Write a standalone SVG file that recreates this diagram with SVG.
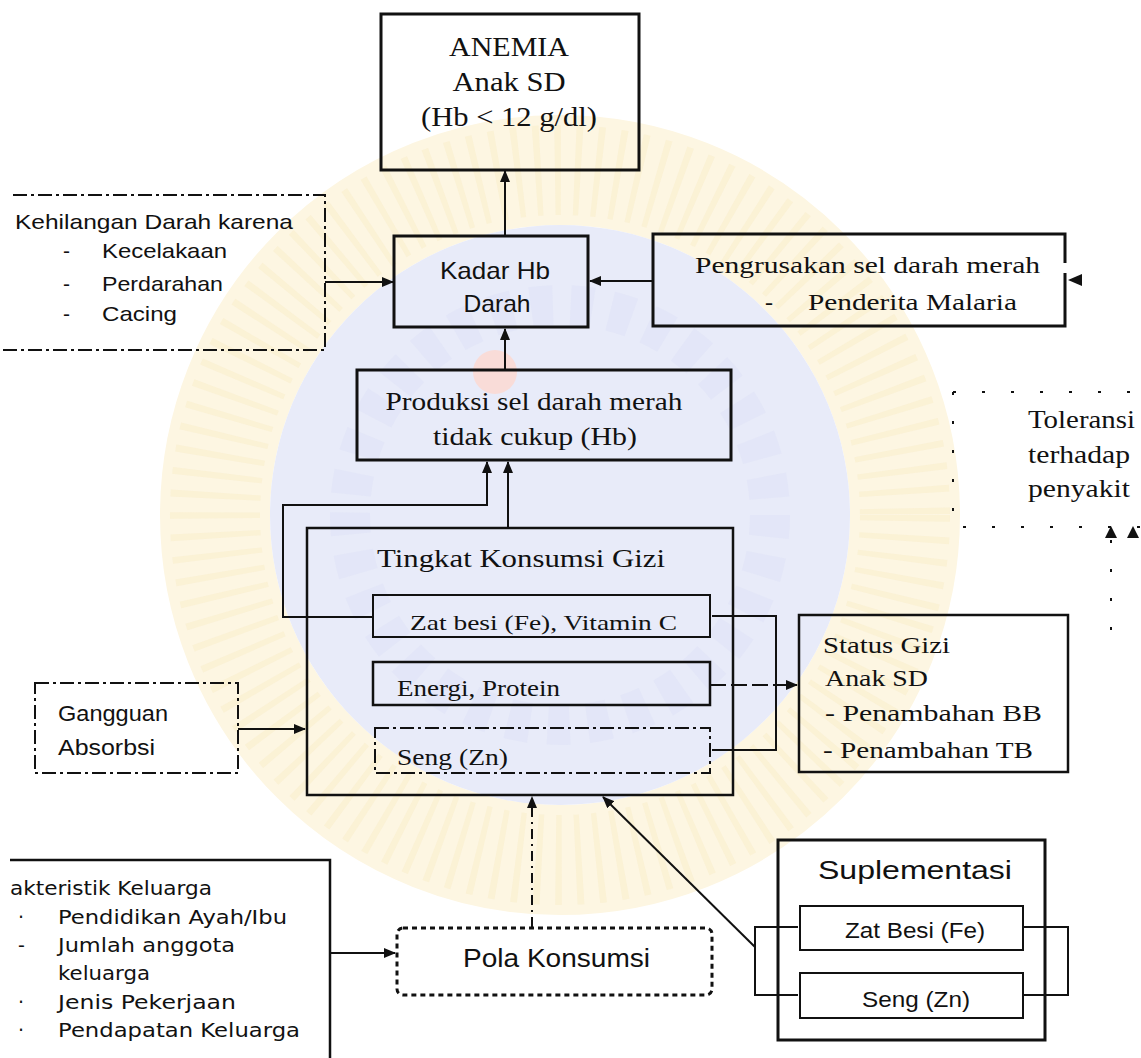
<svg xmlns="http://www.w3.org/2000/svg" width="1141" height="1058" viewBox="0 0 1141 1058">
  <style>
    .box { fill: none; stroke: #111; stroke-width: 3; }
    .thin { fill: none; stroke: #111; stroke-width: 2; }
    .dash { fill: none; stroke: #111; stroke-width: 2; stroke-dasharray: 14 4 3 4; }
    .dot { fill: none; stroke: #111; stroke-width: 3; stroke-dasharray: 5 4; }
    .sparse { fill: none; stroke: #111; stroke-width: 2; stroke-dasharray: 3 26; }
    .ln { fill: none; stroke: #111; stroke-width: 2; }
    .serif { font-family: "Liberation Serif", "Times New Roman", serif; fill: #111; }
    .sans { font-family: "Liberation Sans", Arial, sans-serif; fill: #111; }
    .round { font-family: "DejaVu Sans", "Liberation Sans", sans-serif; fill: #111; }
  </style>
  <defs>
    <marker id="ah" viewBox="0 0 12 10" refX="11" refY="5" markerWidth="12" markerHeight="10" markerUnits="userSpaceOnUse" orient="auto">
      <path d="M0,0 L12,5 L0,10 z" fill="#111"/>
    </marker>
  </defs>

  <rect width="1141" height="1058" fill="#fff"/>

  <!-- faint seal printed behind the chart -->
  <g id="watermark">
    <circle cx="560" cy="515" r="345" fill="none" stroke="#fdf6e2" stroke-width="110"/>
    <circle cx="560" cy="515" r="345" fill="none" stroke="#faeec8" stroke-width="90" stroke-dasharray="6 14" opacity="0.5"/>
    <circle cx="560" cy="515" r="290" fill="#e8ebf9"/>
    <circle cx="560" cy="515" r="210" fill="none" stroke="#dfe3f7" stroke-width="40" stroke-dasharray="22 18" opacity="0.6"/>
    <circle cx="495" cy="372" r="22" fill="#f9dcd8"/>
  </g>

  <g id="anemia">
    <rect class="box" x="381" y="14" width="258" height="156"/>
    <text class="serif" font-size="27" text-anchor="middle" x="509" y="56" textLength="120" lengthAdjust="spacingAndGlyphs">ANEMIA</text>
    <text class="serif" font-size="27" text-anchor="middle" x="509" y="91" textLength="113" lengthAdjust="spacingAndGlyphs">Anak SD</text>
    <text class="serif" font-size="27" text-anchor="middle" x="509" y="126" textLength="176" lengthAdjust="spacingAndGlyphs">(Hb &lt; 12 g/dl)</text>
  </g>

  <g id="kehilangan-darah">
    <path class="dash" d="M13,195 H325 V350 H2"/>
    <text class="sans" font-size="21" x="15" y="229" textLength="278" lengthAdjust="spacingAndGlyphs">Kehilangan Darah karena</text>
    <text class="sans" font-size="21" x="63" y="258">-</text>
    <text class="sans" font-size="21" x="102" y="258" textLength="125" lengthAdjust="spacingAndGlyphs">Kecelakaan</text>
    <text class="sans" font-size="21" x="63" y="291">-</text>
    <text class="sans" font-size="21" x="102" y="291" textLength="121" lengthAdjust="spacingAndGlyphs">Perdarahan</text>
    <text class="sans" font-size="21" x="63" y="321">-</text>
    <text class="sans" font-size="21" x="102" y="321" textLength="75" lengthAdjust="spacingAndGlyphs">Cacing</text>
  </g>

  <g id="kadar-hb">
    <rect class="box" x="394" y="236" width="194" height="91"/>
    <text class="sans" font-size="24" text-anchor="middle" x="495" y="279" textLength="110" lengthAdjust="spacingAndGlyphs">Kadar Hb</text>
    <text class="sans" font-size="24" text-anchor="middle" x="497" y="312" textLength="67" lengthAdjust="spacingAndGlyphs">Darah</text>
  </g>

  <g id="pengrusakan">
    <path class="box" d="M1065,263 V234 H653 V326 H1065 V273"/>
    <text class="serif" font-size="24" x="695" y="273" textLength="345" lengthAdjust="spacingAndGlyphs">Pengrusakan sel darah merah</text>
    <text class="serif" font-size="24" x="765" y="310">-</text>
    <text class="serif" font-size="24" x="808" y="310" textLength="209" lengthAdjust="spacingAndGlyphs">Penderita Malaria</text>
  </g>

  <g id="produksi">
    <rect class="box" x="357" y="370" width="374" height="90"/>
    <text class="serif" font-size="25" text-anchor="middle" x="534" y="410" textLength="297" lengthAdjust="spacingAndGlyphs">Produksi sel darah merah</text>
    <text class="serif" font-size="25" text-anchor="middle" x="535" y="445" textLength="204" lengthAdjust="spacingAndGlyphs">tidak cukup (Hb)</text>
  </g>

  <g id="toleransi">
    <path class="sparse" d="M953,392 H1150 M953,392 V527 H1150"/>
    <text class="serif" font-size="25" x="1028" y="428" textLength="107" lengthAdjust="spacingAndGlyphs">Toleransi</text>
    <text class="serif" font-size="25" x="1028" y="463" textLength="102" lengthAdjust="spacingAndGlyphs">terhadap</text>
    <text class="serif" font-size="25" x="1028" y="497" textLength="102" lengthAdjust="spacingAndGlyphs">penyakit</text>
  </g>

  <g id="tingkat-konsumsi">
    <rect class="box" style="stroke-width:2.5" x="307" y="528" width="426" height="267"/>
    <text class="serif" font-size="26" x="377" y="567" textLength="288" lengthAdjust="spacingAndGlyphs">Tingkat Konsumsi Gizi</text>
    <g id="zat-besi-vitc">
      <rect class="thin" x="373" y="595" width="337" height="42"/>
      <text class="serif" font-size="22" x="410" y="630" textLength="267" lengthAdjust="spacingAndGlyphs">Zat besi (Fe), Vitamin C</text>
    </g>
    <g id="energi-protein">
      <rect class="box" style="stroke-width:2.5" x="373" y="662" width="337" height="43"/>
      <text class="serif" font-size="23" x="397" y="696" textLength="163" lengthAdjust="spacingAndGlyphs">Energi, Protein</text>
    </g>
    <g id="seng-gizi">
      <rect class="dash" x="375" y="728" width="335" height="45"/>
      <text class="serif" font-size="23" x="397" y="765" textLength="111" lengthAdjust="spacingAndGlyphs">Seng (Zn)</text>
    </g>
  </g>

  <g id="status-gizi">
    <rect class="box" style="stroke-width:2.5" x="799" y="615" width="269" height="157"/>
    <text class="serif" font-size="23" x="823" y="653" textLength="127" lengthAdjust="spacingAndGlyphs">Status Gizi</text>
    <text class="serif" font-size="23" x="825" y="686" textLength="103" lengthAdjust="spacingAndGlyphs">Anak SD</text>
    <text class="serif" font-size="23" x="825" y="721" textLength="217" lengthAdjust="spacingAndGlyphs">- Penambahan BB</text>
    <text class="serif" font-size="23" x="823" y="758" textLength="210" lengthAdjust="spacingAndGlyphs">- Penambahan TB</text>
  </g>

  <g id="gangguan-absorbsi">
    <rect class="dash" x="35" y="683" width="203" height="90"/>
    <text class="sans" font-size="22" x="58" y="721" textLength="110" lengthAdjust="spacingAndGlyphs">Gangguan</text>
    <text class="sans" font-size="22" x="58" y="755" textLength="97" lengthAdjust="spacingAndGlyphs">Absorbsi</text>
  </g>

  <g id="karakteristik-keluarga">
    <path class="box" style="stroke-width:2.5" d="M10,860 H330 V1058"/>
    <text class="round" font-size="19" x="10" y="895" textLength="202" lengthAdjust="spacingAndGlyphs">akteristik Keluarga</text>
    <text class="round" font-size="19" x="18" y="924">·</text>
    <text class="round" font-size="19" x="58" y="924" textLength="229" lengthAdjust="spacingAndGlyphs">Pendidikan Ayah/Ibu</text>
    <text class="round" font-size="19" x="18" y="952">-</text>
    <text class="round" font-size="19" x="58" y="952" textLength="177" lengthAdjust="spacingAndGlyphs">Jumlah anggota</text>
    <text class="round" font-size="19" x="58" y="980" textLength="92" lengthAdjust="spacingAndGlyphs">keluarga</text>
    <text class="round" font-size="19" x="18" y="1009">·</text>
    <text class="round" font-size="19" x="58" y="1009" textLength="178" lengthAdjust="spacingAndGlyphs">Jenis Pekerjaan</text>
    <text class="round" font-size="19" x="18" y="1037">·</text>
    <text class="round" font-size="19" x="58" y="1037" textLength="242" lengthAdjust="spacingAndGlyphs">Pendapatan Keluarga</text>
  </g>

  <g id="pola-konsumsi">
    <rect class="dot" x="397" y="928" width="315" height="67" rx="6"/>
    <text class="sans" font-size="26" x="463" y="967" textLength="187" lengthAdjust="spacingAndGlyphs">Pola Konsumsi</text>
  </g>

  <g id="suplementasi">
    <rect class="box" x="778" y="840" width="267" height="200"/>
    <text class="sans" font-size="26" x="818" y="879" textLength="194" lengthAdjust="spacingAndGlyphs">Suplementasi</text>
    <g id="supl-zat-besi">
      <rect class="thin" x="800" y="906" width="223" height="44"/>
      <text class="sans" font-size="22" x="845" y="938" textLength="140" lengthAdjust="spacingAndGlyphs">Zat Besi (Fe)</text>
    </g>
    <g id="supl-seng">
      <rect class="thin" x="800" y="973" width="223" height="45"/>
      <text class="sans" font-size="22" x="862" y="1007" textLength="108" lengthAdjust="spacingAndGlyphs">Seng (Zn)</text>
    </g>
  </g>

  <g id="connectors">
    <path class="ln" d="M505,236 V171" marker-end="url(#ah)"/>
    <path class="ln" d="M325,282 H393" marker-end="url(#ah)"/>
    <path class="ln" d="M653,281 H590" marker-end="url(#ah)"/>
    <path class="ln" d="M505,370 V329" marker-end="url(#ah)"/>
    <path class="ln" d="M508,528 V462" marker-end="url(#ah)"/>
    <path class="ln" d="M373,617 H283 V505 H487 V462" marker-end="url(#ah)"/>
    <path class="ln" d="M712,616 H776 V750 H712"/>
    <path class="ln" d="M710,685 H797" stroke-dasharray="16 5" marker-end="url(#ah)"/>
    <path class="ln" d="M238,729 H305" marker-end="url(#ah)"/>
    <path class="ln" d="M330,953 H395" marker-end="url(#ah)"/>
    <path class="ln" d="M532,927 V797" stroke-dasharray="10 5 2 5" marker-end="url(#ah)"/>
    <path class="ln" d="M798,927 H755 V995 H798"/>
    <path class="ln" d="M1023,927 H1068 V995 H1023"/>
    <path class="ln" d="M755,947 L603,797" marker-end="url(#ah)"/>
    <polygon points="1068,280 1082,274 1082,286" fill="#111"/>
    <path class="sparse" d="M1111,540 V640"/>
    <polygon points="1111,526 1105,538 1117,538" fill="#111"/>
    <polygon points="1133,526 1127,538 1139,538" fill="#111"/>
  </g>
</svg>
